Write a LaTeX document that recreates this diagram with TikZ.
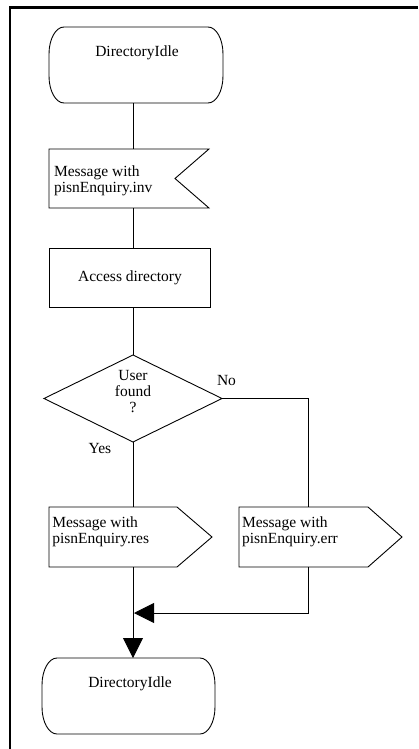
\documentclass[tikz,border=0pt]{standalone}
\usepackage{fontspec}
\setmainfont{Liberation Serif}
\usetikzlibrary{arrows.meta,calc,shapes.geometric}
\newcommand\drawterm[1]{%
  \draw[shapeline] ($(#1.north west)+(15,0)$) -- ($(#1.north east)+(-15,0)$)
    arc[start angle=-90,end angle=0,x radius=15,y radius=27]
    -- ($(#1.south east)+(0,-27)$)
    arc[start angle=0,end angle=90,x radius=15,y radius=27]
    -- ($(#1.south west)+(15,0)$)
    arc[start angle=90,end angle=180,x radius=15,y radius=27]
    -- ($(#1.north west)+(0,27)$)
    arc[start angle=180,end angle=270,x radius=15,y radius=27] -- cycle;}
\begin{document}
\begin{tikzpicture}[x=1pt,y=-1pt,
  shapeline/.style={line width=0.9pt,line join=miter},
  conn/.style={line width=0.9pt},
  arr/.style={line width=0.9pt,-{Triangle[length=20pt,width=20pt]}},
  holder/.style={draw=none,inner sep=0pt,outer sep=0pt,rectangle},
  txt/.style={inner sep=0pt,outer sep=0pt,font=\fontsize{15.5}{16}\selectfont},
  decision/.style={diamond,draw,line width=0.9pt,inner sep=0pt,outer sep=0pt,aspect=2,minimum width=178pt,minimum height=87pt}]
\useasboundingbox (0,0) rectangle (418,749);
\draw[line width=2.4pt] (10,749) -- (10,7.5) -- (418,7.5);
\coordinate (axis) at (133,0);
\coordinate (noaxis) at (308,0);
% top terminal
\node[holder,minimum width=174pt,minimum height=76pt] (idle1) at (136,65) {};
\drawterm{idle1}
\node[txt,anchor=base] (idle1t) at (137,57) {DirectoryIdle};
% input signal
\node[holder,minimum width=160pt,minimum height=59pt] (inv) at (129,178.5) {};
\draw[shapeline] (inv.north west) -- (inv.north east) -- ($(inv.east)+(-34,0)$) -- (inv.south east) -- (inv.south west) -- cycle;
\node[txt,anchor=north west,align=left] (invt) at (54,164.8) {\strut Message with\\pisnEnquiry.inv};
% task
\node[holder,draw,line width=0.9pt,minimum width=161pt,minimum height=59pt] (acc) at (129.5,277.5) {};
\node[txt,anchor=base] (acct) at (130,281) {Access directory};
% decision
\node[decision] (dec) at (133,398.5) {};
\node[txt,anchor=north,align=center] (dect) at (133,368.8) {\strut User\\found\\?};
\node[txt,anchor=base] (no) at (226.5,385) {No};
\node[txt,anchor=base] (yes) at (100,453) {Yes};
% output signals
\node[holder,minimum width=163pt,minimum height=60pt] (res) at (130.5,537) {};
\draw[shapeline] (res.north west) -- ($(res.north east)+(-35,0)$) -- (res.east) -- ($(res.south east)+(-35,0)$) -- (res.south west) -- cycle;
\node[txt,anchor=north west,align=left] (rest) at (52.3,515.8) {\strut Message with\\pisnEnquiry.res};
\node[holder,minimum width=163pt,minimum height=60pt] (err) at (320.5,537) {};
\draw[shapeline] (err.north west) -- ($(err.north east)+(-34,0)$) -- (err.east) -- ($(err.south east)+(-34,0)$) -- (err.south west) -- cycle;
\node[txt,anchor=north west,align=left] (errt) at (242,515.8) {\strut Message with\\pisnEnquiry.err};
% bottom terminal
\node[holder,minimum width=173pt,minimum height=76pt] (idle2) at (128.5,696) {};
\drawterm{idle2}
\node[txt,anchor=base] (idle2t) at (130,687) {DirectoryIdle};
% connectors
\coordinate (merge) at (134,613);
\draw[conn] (axis |- idle1.south) -- (axis |- inv.north);
\draw[conn] (axis |- inv.south) -- (axis |- acc.north);
\draw[conn] (axis |- acc.south) -- (dec.north);
\draw[conn] (dec.south) -- (axis |- res.north);
\draw[conn] (dec.east) -| (noaxis |- err.north);
\draw[arr] (axis |- res.south) -- (axis |- idle2.north);
\draw[arr] (noaxis |- err.south) |- (merge);
\end{tikzpicture}
\end{document}
